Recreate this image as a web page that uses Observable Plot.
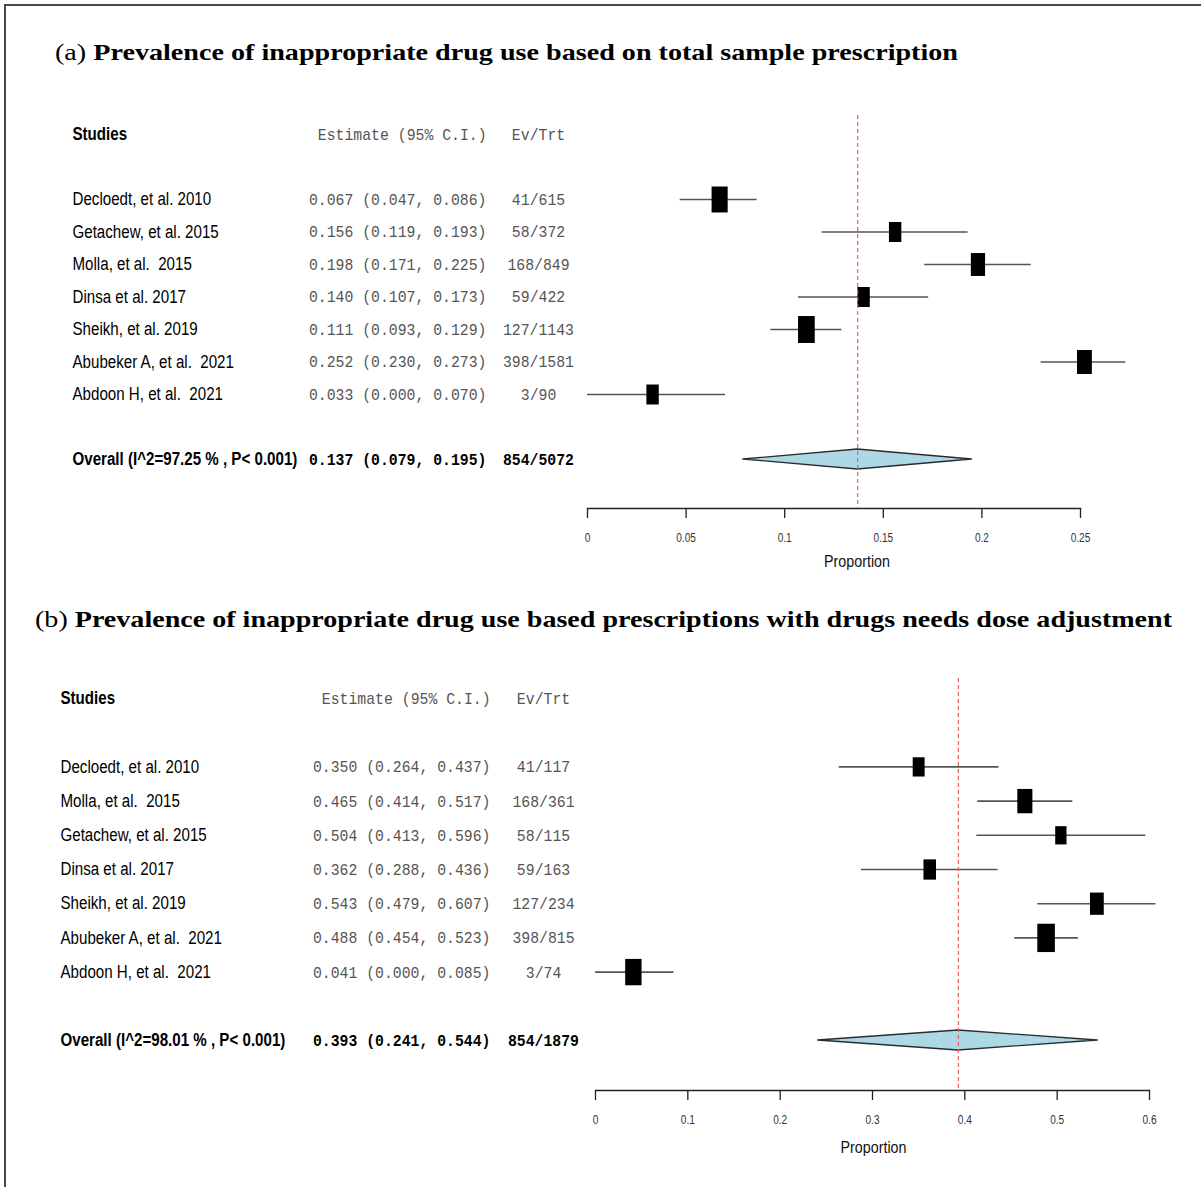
<!DOCTYPE html>
<html><head><meta charset="utf-8">
<script src="https://cdn.jsdelivr.net/npm/d3@7"></script>
<script src="https://cdn.jsdelivr.net/npm/@observablehq/plot@0.6"></script>
<style>
html,body{margin:0;padding:0;background:#fff;}
body{width:1201px;height:1187px;overflow:hidden;position:relative;}
#border{position:absolute;left:4px;top:4px;width:1400px;height:1400px;border:2px solid #4a4a4a;box-sizing:border-box;}
.title{position:absolute;font-family:"Liberation Serif","Times New Roman",serif;font-size:23px;white-space:pre;color:#000;line-height:1;transform-origin:0 0;}
.panel{position:absolute;left:0;}
svg text{white-space:pre;}
</style></head><body>
<div id="border"></div>
<div class="title" id="ta" style="left:55px;top:41px;">(a) <b>Prevalence of inappropriate drug use based on total sample prescription</b></div>
<div class="title" id="tb" style="left:35px;top:608px;">(b) <b>Prevalence of inappropriate drug use based prescriptions with drugs needs dose adjustment</b></div>
<div class="panel" id="pa" style="top:0px;"></div>
<div class="panel" id="pb" style="top:590px;"></div>
<script>
// ---------- Panel (a) data ----------
const studiesA = ["Decloedt, et al. 2010","Getachew, et al. 2015","Molla, et al.  2015","Dinsa et al. 2017","Sheikh, et al. 2019","Abubeker A, et al.  2021","Abdoon H, et al.  2021"];
const estA   = [0.067,0.156,0.198,0.140,0.111,0.252,0.033];
const lowerA = [0.047,0.119,0.171,0.107,0.093,0.230,0.000];
const upperA = [0.086,0.193,0.225,0.173,0.129,0.273,0.070];
const evA    = [41,58,168,59,127,398,3];
const trtA   = [615,372,849,422,1143,1581,90];
const weightA = [18.2,10.8,14.2,10.8,19.6,15.5,10.8];
const overallA = {label:"Overall (I^2=97.25 % , P< 0.001)", est:0.137, lower:0.079, upper:0.195, ev:854, trt:5072};
const ticksA = [0,0.05,0.1,0.15,0.2,0.25];

// ---------- Panel (b) data ----------
const studiesB = ["Decloedt, et al. 2010","Molla, et al.  2015","Getachew, et al. 2015","Dinsa et al. 2017","Sheikh, et al. 2019","Abubeker A, et al.  2021","Abdoon H, et al.  2021"];
const estB   = [0.350,0.465,0.504,0.362,0.543,0.488,0.041];
const lowerB = [0.264,0.414,0.413,0.288,0.479,0.454,0.000];
const upperB = [0.437,0.517,0.596,0.436,0.607,0.523,0.085];
const evB    = [41,168,58,59,127,398,3];
const trtB   = [117,361,115,163,234,815,74];
const weightB = [10.0,16.0,9.0,11.1,13.4,21.7,18.8];
const overallB = {label:"Overall (I^2=98.01 % , P< 0.001)", est:0.393, lower:0.241, upper:0.544, ev:854, trt:1879};
const ticksB = [0,0.1,0.2,0.3,0.4,0.5,0.6];

const headers = {study:"Studies", est:"Estimate (95% C.I.)", ev:"Ev/Trt"};

const SANS = "Liberation Sans, Arial, sans-serif";
const MONO = "Liberation Mono, Courier New, monospace";

const rectSym = {
  draw(ctx, size) {
    const r = Math.sqrt(size / Math.PI);
    const h = r, w = r * 0.62;
    ctx.moveTo(-w, -h); ctx.lineTo(w, -h); ctx.lineTo(w, h); ctx.lineTo(-w, h); ctx.closePath();
  }
};

const fmtCI = d => `${d.est.toFixed(3)} (${d.lower.toFixed(3)}, ${d.upper.toFixed(3)})`;

function forest(cfg) {
  const {studies, est, lower, upper, ev, trt, weight, overall, ticks, height, marginTop, marginBottom, marginLeft, marginRight, yRange, cols, propDx, propDy} = cfg;
  const rows = studies.map((s, i) => ({row: i + 2, study: s, est: est[i], lower: lower[i], upper: upper[i], ev: ev[i], trt: trt[i], w: weight[i]}));
  const ovRow = [{row: 10, ...overall}];
  const rowPx = (yRange[1] - yRange[0]) / 10;
  const dh = 10 / rowPx;
  const diamond = [
    {x: overall.lower, y1: 10, y2: 10},
    {x: overall.est, y1: 10 - dh, y2: 10 + dh},
    {x: overall.upper, y1: 10, y2: 10}
  ];
  const sansText = {frameAnchor: "left", fontFamily: SANS, fontSize: 18, fill: "#000"};
  const monoText = {frameAnchor: "left", fontFamily: MONO, fontSize: 17};
  return Plot.plot({
    width: 1201, height, marginTop, marginBottom, marginLeft, marginRight,
    x: {domain: [ticks[0], ticks[ticks.length - 1]]},
    y: {domain: [0, 10], range: yRange, axis: null},
    r: {type: "sqrt", domain: [0, 20], range: [0, 13.6]},
    style: {background: "transparent", color: "#222"},
    marks: [
      Plot.frame({anchor: "bottom", stroke: "#222", strokeWidth: 1.3}),
      Plot.axisX({ticks, tickSize: 10, tickPadding: 15, tickFormat: d => String(d), fontSize: 12, fontFamily: SANS, stroke: "#222", fill: "#333", strokeWidth: 1.3, label: null}),
      Plot.text(["Proportion"], {frameAnchor: "bottom", lineAnchor: "middle", dx: propDx, dy: propDy, fontSize: 17, fontFamily: SANS, fill: "#111"}),
      Plot.ruleY(rows, {y: "row", x1: "lower", x2: "upper", stroke: "#555", strokeWidth: 1.6}),
      Plot.dot(rows, {x: "est", y: "row", r: "w", symbol: rectSym, fill: "#000", stroke: null}),
      Plot.areaY(diamond, {x: "x", y1: "y1", y2: "y2", fill: "#add8e6", stroke: "#2b2b2b", strokeWidth: 1.3}),
      Plot.ruleX([overall.est], {stroke: "#f25c5c", strokeDasharray: "4,3", strokeWidth: 1.2}),
      // header row
      Plot.text([headers.study], {...sansText, y: [0], dx: cols.study, textAnchor: "start", fontWeight: "bold"}),
      Plot.text([headers.est], {...monoText, y: [0], dx: cols.est, textAnchor: "end", fill: "#555"}),
      Plot.text([headers.ev], {...monoText, y: [0], dx: cols.ev, textAnchor: "middle", fill: "#555"}),
      // study rows
      Plot.text(rows, {...sansText, y: "row", text: "study", dx: cols.study, textAnchor: "start"}),
      Plot.text(rows, {...monoText, y: "row", text: fmtCI, dx: cols.est, textAnchor: "end", fill: "#555"}),
      Plot.text(rows, {...monoText, y: "row", text: d => `${d.ev}/${d.trt}`, dx: cols.ev, textAnchor: "middle", fill: "#555"}),
      // overall row
      Plot.text(ovRow, {...sansText, y: "row", text: "label", dx: cols.study, textAnchor: "start", fontWeight: "bold"}),
      Plot.text(ovRow, {...monoText, y: "row", text: fmtCI, dx: cols.est, textAnchor: "end", fill: "#000", fontWeight: "bold"}),
      Plot.text(ovRow, {...monoText, y: "row", text: d => `${d.ev}/${d.trt}`, dx: cols.ev, textAnchor: "middle", fill: "#000", fontWeight: "bold"})
    ]
  });
}

// condense text horizontally (the reference uses narrow fonts)
function condense(svg) {
  svg.querySelectorAll("text").forEach(t => {
    const ff = getComputedStyle(t).fontFamily;
    const k = /Mono/i.test(ff) ? 0.87 : 0.84;
    const L = t.getComputedTextLength();
    if (L > 0) {
      t.setAttribute("textLength", (L * k).toFixed(2));
      t.setAttribute("lengthAdjust", "spacingAndGlyphs");
    }
  });
}

const pa = forest({
  studies: studiesA, est: estA, lower: lowerA, upper: upperA, ev: evA, trt: trtA, weight: weightA,
  overall: overallA, ticks: ticksA,
  height: 590, marginTop: 115, marginBottom: 82, marginLeft: 587, marginRight: 121,
  yRange: [134, 459],
  cols: {study: -515, est: -101, ev: -49},
  propDx: 23, propDy: 53
});
document.getElementById("pa").appendChild(pa);
condense(pa);

const pb = forest({
  studies: studiesB, est: estB, lower: lowerB, upper: upperB, ev: evB, trt: trtB, weight: weightB,
  overall: overallB, ticks: ticksB,
  height: 597, marginTop: 88, marginBottom: 97, marginLeft: 595, marginRight: 52,
  yRange: [108, 450],
  cols: {study: -535, est: -105, ev: -52},
  propDx: 1, propDy: 57
});
document.getElementById("pb").appendChild(pb);
condense(pb);

// stretch titles to the reference widths
function stretchTitle(id, target) {
  const el = document.getElementById(id);
  const w = el.getBoundingClientRect().width;
  el.style.transform = `scaleX(${(target / w).toFixed(4)})`;
}
stretchTitle("ta", 903);
stretchTitle("tb", 1137);
</script>
</body></html>
